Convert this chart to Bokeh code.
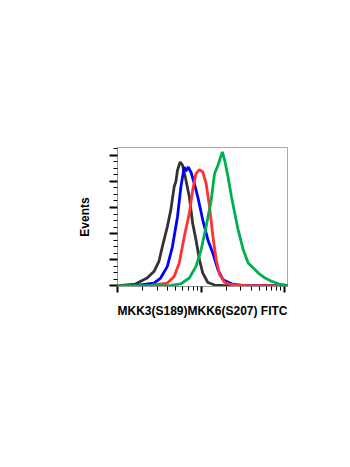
from bokeh.plotting import figure
from bokeh.models import FixedTicker, Range1d
from bokeh.embed import file_html
from bokeh.resources import INLINE

# Data (FITC intensity, event counts)
black_x = [10.1, 16.4, 22.6, 27.3, 31.3, 34.4, 39.5, 43.4, 47.6, 50.0, 52.2, 56.2, 60.0, 65.9, 72.3, 79.3, 86.9, 95.5, 104.7, 120.5, 144.9, 191.4, 1080]
black_y = [0, 1.3, 5.9, 10.9, 18.6, 30.0, 45.3, 58.0, 75.8, 80.0, 88.6, 94.9, 92.4, 80.9, 68.2, 47.8, 35.1, 19.9, 9.7, 2.5, 0.5, 0, 0]

blue_x = [17.1, 27.3, 32.8, 39.5, 45.4, 52.2, 57.3, 62.9, 65.9, 70.3, 75.7, 83.0, 91.2, 104.7, 120.5, 138.4, 159.2, 182.8, 230.7, 304.1, 1080]
blue_y = [0.25, 2.0, 5.9, 14.8, 30.0, 52.9, 75.8, 91.1, 88.0, 91.0, 87.0, 78.4, 68.2, 50.4, 35.1, 24.9, 12.2, 4.6, 1.5, 0.25, 0]

red_x = [24.8, 39.5, 47.6, 54.7, 62.9, 72.3, 79.3, 86.9, 95.5, 104.7, 114.8, 126.2, 138.4, 151.7, 166.7, 191.4, 230.7, 334.2, 1080]
red_y = [0.25, 2.0, 7.1, 17.3, 37.7, 55.5, 73.3, 86.0, 89.1, 87.3, 78.4, 60.6, 37.7, 19.9, 8.4, 2.5, 0.75, 0.25, 0]

green_x = [10.1, 43.4, 57.3, 72.3, 86.9, 100.0, 114.8, 132.1, 144.9, 159.2, 179.5, 191.4, 209.9, 230.7, 252.9, 277.3, 319.2, 366.4, 421.7, 484.2, 583.4, 701.5, 845.3, 1080]
green_y = [0, 0.25, 1.5, 5.9, 14.8, 27.5, 45.3, 65.7, 86.0, 92.4, 102.6, 96.2, 83.5, 68.2, 55.5, 42.8, 27.5, 17.3, 13.5, 9.7, 5.9, 3.3, 1.5, 0.25]

x_major = [10, 100, 1000]
x_minor = [20, 30, 40, 50, 60, 70, 80, 90, 200, 300, 400, 500, 600, 700, 800, 900]
y_major = [0, 20, 40, 60, 80, 100]
y_minor = [5, 10, 15, 25, 30, 35, 45, 50, 55, 65, 70, 75, 85, 90, 95, 105]

p = figure(width=350, height=467, output_backend="svg", toolbar_location=None,
           x_axis_type="log", min_border_left=117, min_border_right=63,
           min_border_top=147, min_border_bottom=181)
p.x_range = Range1d(10, 1080)
p.y_range = Range1d(-0.6, 106)
p.background_fill_color = "white"
p.border_fill_color = "white"
p.outline_line_color = "#aaaaaa"
p.outline_line_width = 1
p.xgrid.visible = False
p.ygrid.visible = False

colors = ["#333333", "#0000ff", "#ff3333", "#00b050"]
for xs, ys, c in [(black_x, black_y, colors[0]), (blue_x, blue_y, colors[1]),
                  (red_x, red_y, colors[2]), (green_x, green_y, colors[3])]:
    p.line(xs, ys, line_color=c, line_width=2.8)

p.xaxis.ticker = FixedTicker(ticks=x_major, minor_ticks=x_minor)
p.yaxis.ticker = FixedTicker(ticks=y_major, minor_ticks=y_minor)
for ax in (p.xaxis[0], p.yaxis[0]):
    ax.axis_line_color = "#999999"
    ax.major_tick_line_color = "black"
    ax.minor_tick_line_color = "black"
    ax.major_tick_line_width = 2
    ax.minor_tick_line_width = 1
    ax.major_tick_in = 0
    ax.minor_tick_in = 0
    ax.major_label_text_font_size = "1px"
    ax.major_label_text_alpha = 0
    ax.major_label_standoff = 0
    ax.axis_label_text_font = "Liberation Sans"
    ax.axis_label_text_font_style = "bold"
    ax.axis_label_text_font_size = "12px"
    ax.axis_label_text_color = "black"
p.yaxis.major_tick_out = 8
p.yaxis.minor_tick_out = 4
p.xaxis.major_tick_out = 6
p.xaxis.minor_tick_out = 4
p.xaxis.axis_label = "MKK3(S189)MKK6(S207) FITC"
p.yaxis.axis_label = "Events"
p.xaxis.axis_label_standoff = 11
p.yaxis.axis_label_standoff = 18

open("out.html", "w").write(file_html(p, INLINE))
